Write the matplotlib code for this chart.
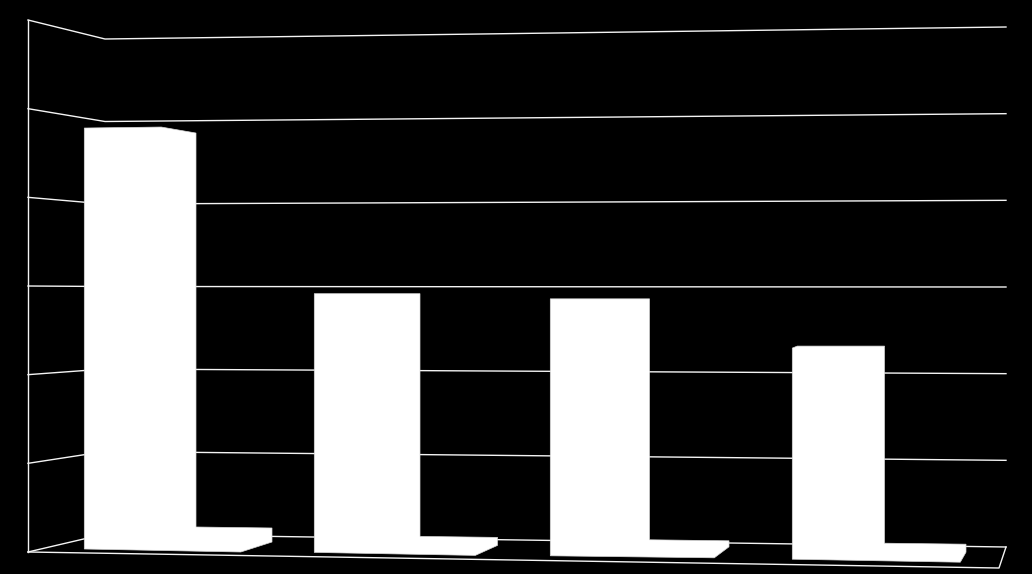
import numpy as np
import matplotlib
matplotlib.use('Agg')
import matplotlib.pyplot as plt

# 1. data (no labels survive in the reference)
categories = ['A', 'B', 'C', 'D']
values = [4.80, 2.95, 2.93, 2.43]
grid_levels = [0, 1, 2, 3, 4, 5, 6]

# 2. perspective of the walls, in pixels
WALL_X = [28, 105, 1006]
WALL_BOTTOM = [552, 534, 547]
WALL_TOP = [20, 39, 27]
FLOOR_FRONT_RIGHT = (999, 568)
LEVEL_MAX = 6
BAR_SCALE = 87.7  # pixels per unit on the plane of the bars

# bars get narrower to the right but the gaps grow, so edges are separate curves
def bar_left(i):
    return 84.3 + 230 * i + 3 * i * (i - 1)

def bar_right(i):
    return 196 + 224 * i + 2.75 * i * (i - 1)

def bar_base(i):
    return 549 + 3.4 * i

# top edge perspective
knee_dx = [77, 50, 50, 5]
knee_rise = [1, 0, 0, 0]
left_drop = [0, 0, 0, 2]
right_drop = [5, 0, 0, 0]

# floor shadow behind each bar, offsets from the bar
shadow_back = [22, 16, 16, 16]
shadow_dx = [76, 77.5, 79.5, 81.5]
shadow_tip_up = [7, 7, 9, 7]
shadow_front_dx = [156.5, 161, 164, 168]
shadow_front_down = [3, 3, 2, 3]

fig = plt.figure(figsize=(10.32, 5.74), dpi=100, facecolor='black')
ax = fig.add_axes([0, 0, 1, 1], facecolor='black')
ax.set_xlim(0, 1032)
ax.set_ylim(574, 0)
ax.axis('off')

line_color = '#f4f4f4'
line_w = 1.0

# 3. walls and floor
for level in grid_levels:
    t = level / LEVEL_MAX
    ys = [b + (top - b) * t for b, top in zip(WALL_BOTTOM, WALL_TOP)]
    ax.plot(WALL_X, ys, color=line_color, lw=line_w, zorder=1)
ax.plot([WALL_X[0], WALL_X[0]], [WALL_BOTTOM[0], WALL_TOP[0]], color=line_color, lw=line_w, zorder=1)
ax.plot([WALL_X[0], FLOOR_FRONT_RIGHT[0], WALL_X[2]],
        [WALL_BOTTOM[0], FLOOR_FRONT_RIGHT[1], WALL_BOTTOM[2]],
        color=line_color, lw=line_w, zorder=1)

# 4. bars with their floor shadow
for i, v in enumerate(values):
    l, r, b = bar_left(i), bar_right(i), bar_base(i)
    top = b - v * BAR_SCALE
    xs = [l, l, l + knee_dx[i], r, r, r + shadow_dx[i], r + shadow_dx[i],
          l + shadow_front_dx[i], l]
    ys = [b, top + left_drop[i], top - knee_rise[i], top + right_drop[i],
          b - shadow_back[i], b - shadow_back[i] + 1, b - shadow_tip_up[i],
          b + shadow_front_down[i], b]
    ax.fill(xs, ys, facecolor='white', edgecolor='#d8d8d8', lw=0.5, zorder=2)

fig.savefig('out.png', dpi=100, facecolor='black')
